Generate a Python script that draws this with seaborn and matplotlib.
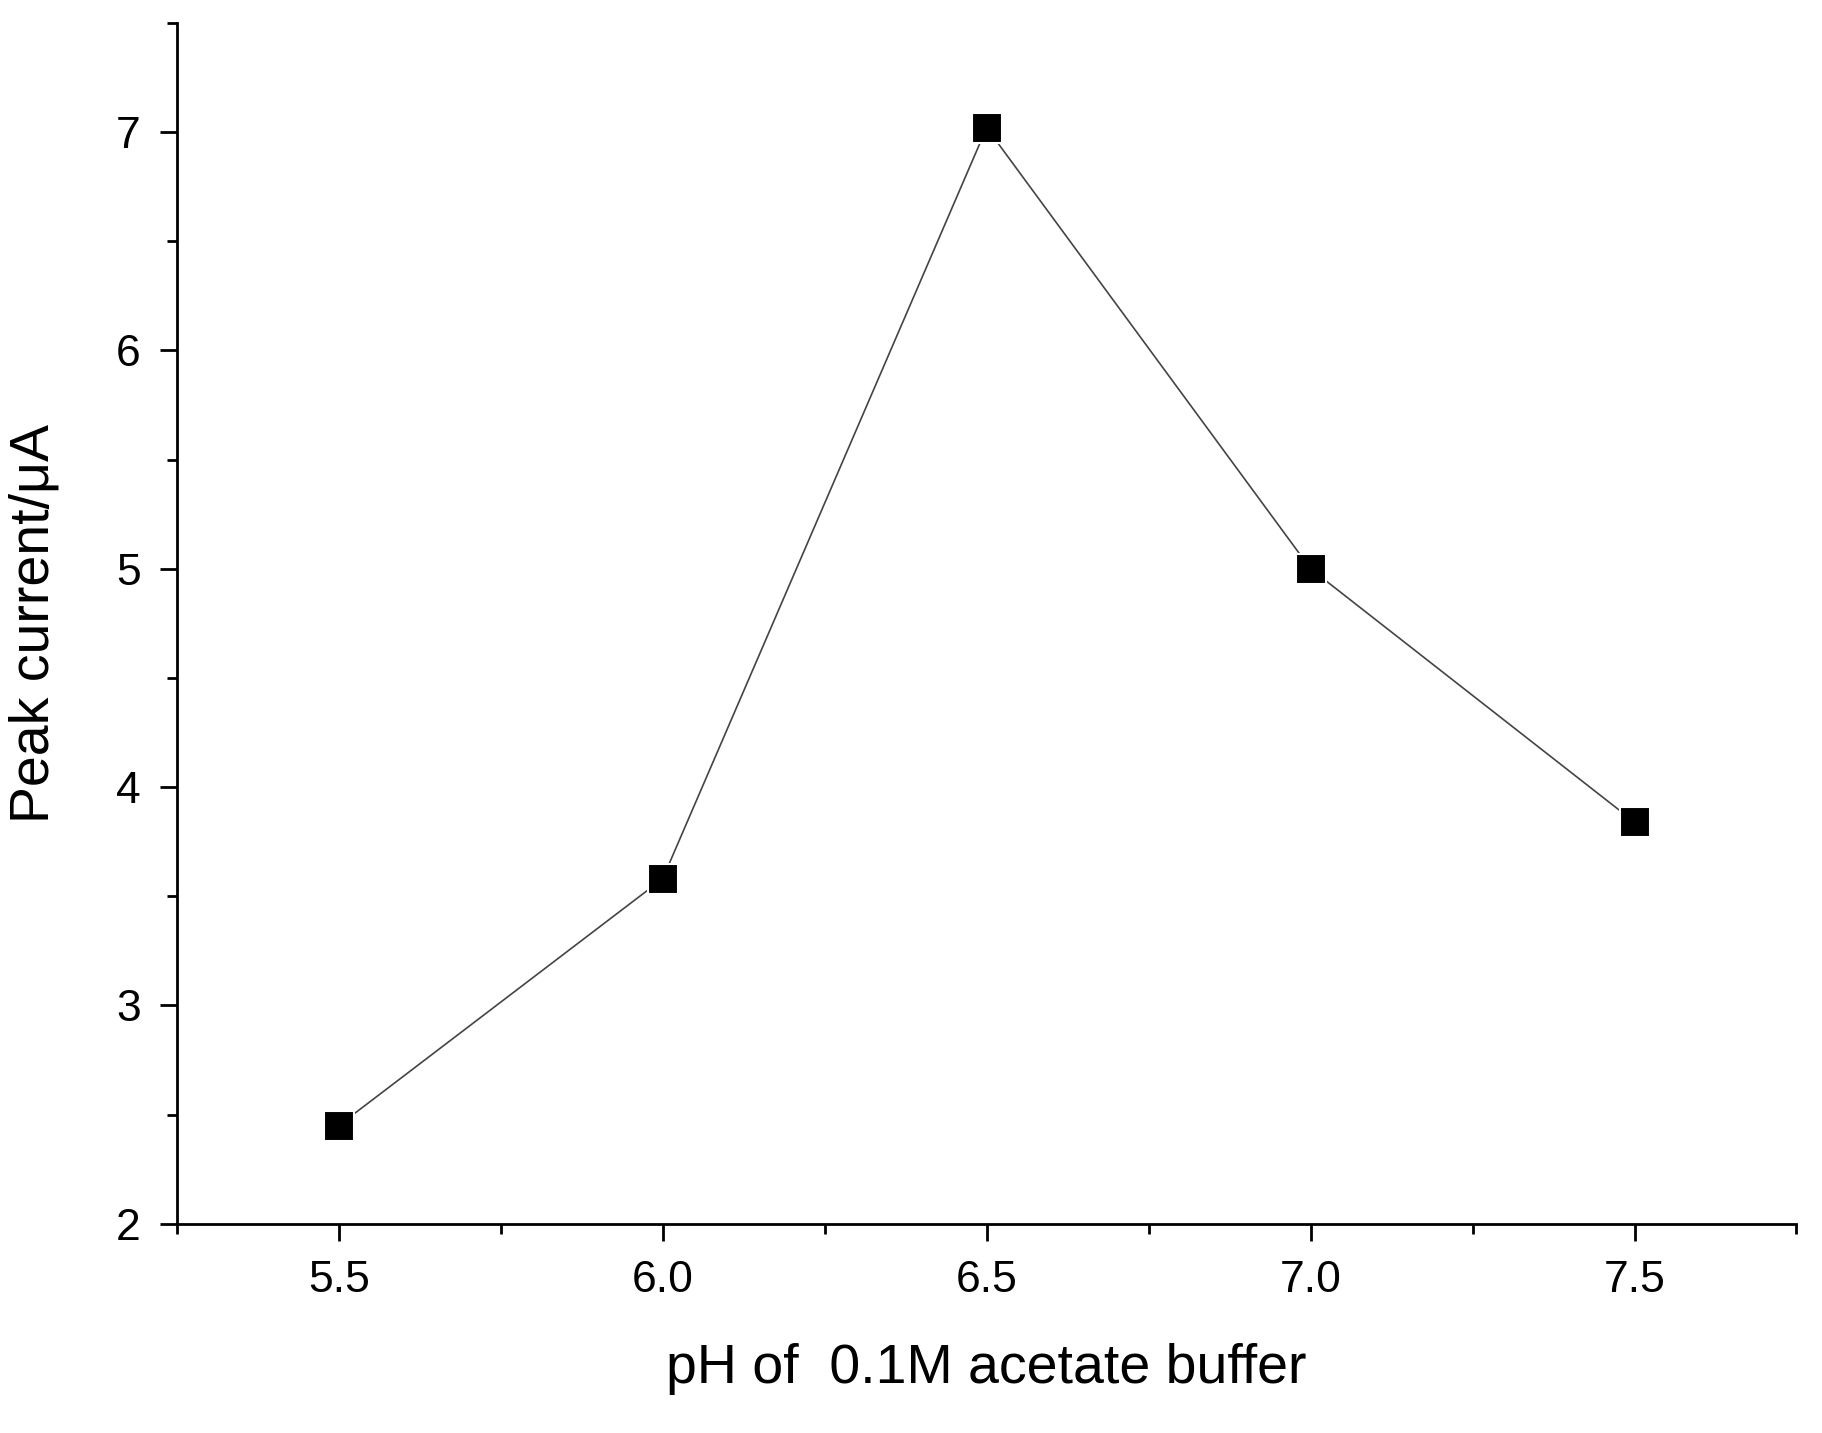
import matplotlib
matplotlib.use("Agg")
import matplotlib.pyplot as plt
import seaborn as sns
import pandas as pd
from matplotlib.ticker import MultipleLocator

ph = [5.5, 6.0, 6.5, 7.0, 7.5]
peak_current = [2.45, 3.58, 7.02, 5.0, 3.84]

sns.set_style("ticks")
plt.rcParams['font.family'] = ['Liberation Sans', 'DejaVu Sans']
plt.rcParams['text.color'] = 'black'
plt.rcParams['axes.labelcolor'] = 'black'
plt.rcParams['xtick.color'] = 'black'
plt.rcParams['ytick.color'] = 'black'
plt.rcParams['axes.edgecolor'] = 'black'

df = pd.DataFrame({'ph': ph, 'current': peak_current})

fig = plt.figure(figsize=(18.22, 14.33), dpi=100)
ax = fig.add_axes([0.097, 0.146, 0.889, 0.838])
sns.lineplot(data=df, x='ph', y='current', ax=ax, color='#444444', linewidth=1.2,
             marker='s', markersize=22, markerfacecolor='black',
             markeredgecolor='white', markeredgewidth=1.5)

ax.set_xlim(5.25, 7.75)
ax.set_ylim(2, 7.5)
ax.xaxis.set_major_locator(MultipleLocator(0.5))
ax.xaxis.set_minor_locator(MultipleLocator(0.25))
ax.yaxis.set_major_locator(MultipleLocator(1))
ax.yaxis.set_minor_locator(MultipleLocator(0.5))
ax.set_xticks([5.5, 6.0, 6.5, 7.0, 7.5])
ax.set_xticklabels(['5.5', '6.0', '6.5', '7.0', '7.5'])
ax.tick_params(which='major', length=12, width=2, labelsize=32, direction='out', pad=14)
ax.tick_params(which='minor', length=7, width=2, direction='out')
for s in ['top', 'right']:
    ax.spines[s].set_visible(False)
for s in ['left', 'bottom']:
    ax.spines[s].set_linewidth(2)

ax.set_xlabel('pH of  0.1M acetate buffer', fontsize=40, labelpad=30)
ax.set_ylabel('Peak current/\u03bcA', fontsize=40, labelpad=40)

fig.savefig('out.png', dpi=100)
